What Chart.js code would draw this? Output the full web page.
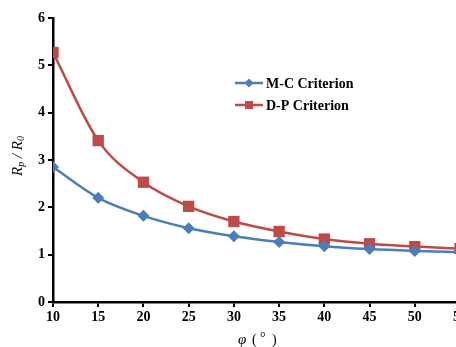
<!DOCTYPE html>
<html>
<head>
<meta charset="utf-8">
<script src="https://cdn.jsdelivr.net/npm/chart.js@4/dist/chart.umd.min.js"></script>
<style>
  html,body{margin:0;padding:0;background:#fff;overflow:hidden;width:456px;height:347px}
  #wrap{position:absolute;left:0;top:0;width:480px;height:347px}
</style>
</head>
<body>
<div id="wrap"><canvas id="c" width="480" height="347"></canvas></div>
<script>
const PHI = [10,15,20,25,30,35,40,45,50,55];
const MC = [2.85,2.20,1.82,1.56,1.39,1.27,1.18,1.12,1.08,1.05];
const DP = [5.27,3.41,2.53,2.02,1.70,1.49,1.33,1.23,1.17,1.13];
const SERIES = ['M-C Criterion','D-P Criterion'];
const BLUE = '#4a7ebb', RED = '#be4b48';
const FONT = '"Liberation Serif","Times New Roman",serif';

const labelsPlugin = {
  id:'labels',
  afterDraw(chart){
    const ctx = chart.ctx;
    ctx.save();
    ctx.fillStyle = '#000';
    // y title R_p / R_0
    ctx.translate(18,156);
    ctx.rotate(-Math.PI/2);
    ctx.textBaseline = 'middle';
    const parts = [['R',15,0],['p',10,3],[' / ',15,0],['R',15,0],['0',10,3]];
    let w = 0;
    parts.forEach(p=>{ctx.font='italic '+p[1]+'px '+FONT; w+=ctx.measureText(p[0]).width;});
    let x = -w/2;
    parts.forEach(p=>{
      ctx.font='italic '+p[1]+'px '+FONT;
      ctx.textAlign='left';
      ctx.fillText(p[0],x,p[2]);
      x+=ctx.measureText(p[0]).width;
    });
    ctx.restore();
    // x title
    ctx.save();
    ctx.fillStyle='#000';
    ctx.textBaseline='middle';
    ctx.textAlign='left';
    ctx.font='italic 15px '+FONT;
    ctx.fillText('φ',238,340);
    ctx.font='14px '+FONT;
    ctx.fillText('(',252,340);
    ctx.fillText('°',260,338);
    ctx.fillText(')',272,340);
    ctx.restore();
    // legend
    ctx.save();
    const ys=[83,105];
    chart.data.datasets.forEach((ds,i)=>{
      const y=ys[i];
      ctx.strokeStyle=ds.borderColor;
      ctx.lineWidth=2.5;
      ctx.beginPath();ctx.moveTo(235,y);ctx.lineTo(263,y);ctx.stroke();
      ctx.fillStyle=ds.backgroundColor;
      if(i===0){
        ctx.beginPath();ctx.moveTo(249,y-4.5);ctx.lineTo(253.5,y);ctx.lineTo(249,y+4.5);ctx.lineTo(244.5,y);ctx.closePath();ctx.fill();
      }else{
        ctx.fillRect(245,y-4,8,8);
      }
      ctx.fillStyle='#000';
      ctx.font='bold 14px '+FONT;
      ctx.textAlign='left';ctx.textBaseline='middle';
      ctx.fillText(ds.label,266,y+1);
    });
    ctx.restore();
  }
};

const pts = arr => PHI.map((p,i)=>({x:p,y:arr[i]}));

new Chart(document.getElementById('c'),{
  type:'line',
  data:{datasets:[
    {label:SERIES[0],data:pts(MC),borderColor:BLUE,backgroundColor:BLUE,borderWidth:2.5,
     pointStyle:'rectRot',pointRadius:6,pointBorderWidth:0,cubicInterpolationMode:'monotone'},
    {label:SERIES[1],data:pts(DP),borderColor:RED,backgroundColor:RED,borderWidth:2.5,
     pointStyle:'rect',pointRadius:8,pointBorderWidth:0,cubicInterpolationMode:'monotone'}
  ]},
  options:{
    responsive:false,animation:false,
    layout:{padding:{top:18,right:20,left:0,bottom:0}},
    plugins:{legend:{display:false},tooltip:{enabled:false}},
    scales:{
      x:{type:'linear',min:10,max:55,
        afterFit(s){s.height=45;},
        ticks:{stepSize:5,color:'#000',font:{family:FONT,size:14,weight:'bold'},padding:2,maxRotation:0},
        grid:{drawOnChartArea:false,tickLength:5,color:'#000',lineWidth:2},
        border:{color:'#000',width:2.5}},
      y:{min:0,max:6,
        afterFit(s){s.width=53;},
        ticks:{stepSize:1,color:'#000',font:{family:FONT,size:14,weight:'bold'},padding:3},
        grid:{drawOnChartArea:false,tickLength:5,color:'#000',lineWidth:2},
        border:{color:'#000',width:2.5}}
    }
  },
  plugins:[labelsPlugin]
});
</script>
</body>
</html>
